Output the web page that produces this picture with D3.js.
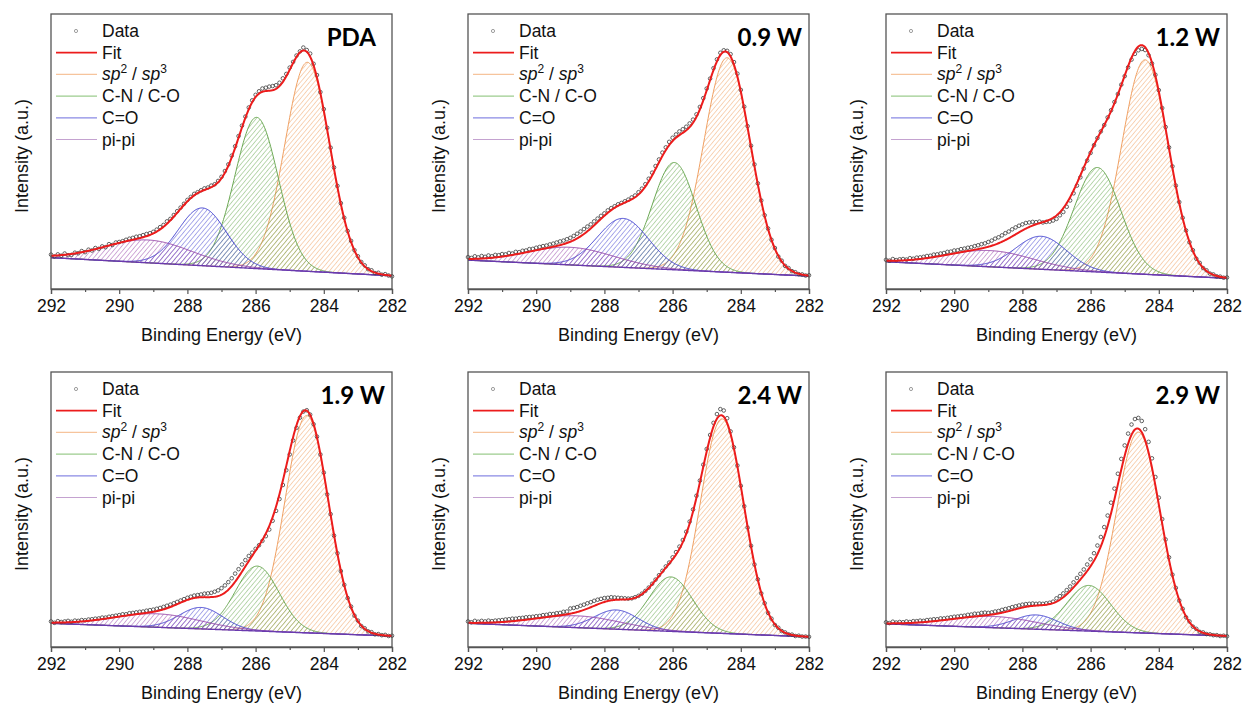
<!DOCTYPE html>
<html>
<head>
<meta charset="utf-8">
<script src="https://cdn.jsdelivr.net/npm/d3@7"></script>
<style>
  html, body { margin: 0; padding: 0; background: #fff; }
  svg { display: block; }
</style>
</head>
<body>
<div id="chart"></div>
<script>
'use strict';
// C 1s spectra, six samples. Data sampled every 0.1 eV from 292 down to 282 eV.
var energyStart = 292, energyStep = 0.1;
var panelLabels = ["PDA", "0.9 W", "1.2 W", "1.9 W", "2.4 W", "2.9 W"];
var majorTicks = [292, 290, 288, 286, 284, 282];
var minorTicks = [291, 289, 287, 285, 283];

// linear background, value at 292 eV and at 282 eV
var bgHigh = [11.4, 10.5, 9.9, 8.6, 8.6, 8.4];
var bgLow = [4.8, 4.7, 3.9, 4.0, 3.7, 4.0];

// fitted peaks: position (eV), height, FWHM (eV)
var sp2Pos = [284.48, 284.4, 284.4, 284.5, 284.55, 284.6];
var sp2Height = [76, 78, 78, 79, 78, 73];
var sp2Fwhm = [1.55, 1.6, 1.6, 1.5, 1.5, 1.5];
var cnPos = [285.97, 285.95, 285.8, 285.95, 286.05, 286.05];
var cnHeight = [55, 39, 38, 23.6, 19.8, 16.6];
var cnFwhm = [1.5, 1.5, 1.6, 1.5, 1.5, 1.5];
var coPos = [287.56, 287.45, 287.45, 287.6, 287.65, 287.6];
var coHeight = [21, 17.8, 12, 7.8, 7.0, 5.2];
var coFwhm = [1.65, 1.75, 1.75, 1.5, 1.5, 1.5];
var pipiPos = [289.15, 289.0, 288.95, 288.9, 288.8, 288.85];
var pipiHeight = [8.3, 6.4, 5.9, 4.9, 4.3, 4.1];
var pipiFwhm = [3.0, 3.0, 3.0, 3.0, 3.0, 3.0];

// measured points (a.u.), 292.0 -> 282.0 eV
var dataPDA = [
  12.5,11.8,12.6,12.1,12.9,12.3,12.4,13.2,13.0,13.8,
  13.4,14.3,14.0,14.9,14.6,15.5,15.2,16.3,16.0,16.9,
  17.1,17.4,17.9,18.3,18.6,19.0,19.2,19.6,20.0,20.3,
  20.8,21.6,22.5,23.3,24.6,25.5,26.9,28.3,29.6,31.0,
  32.4,33.5,34.6,35.2,35.9,36.6,36.9,37.6,38.1,39.3,
  40.8,42.9,45.3,48.5,51.9,55.6,59.4,62.7,66.0,68.6,
  70.6,71.9,72.9,73.2,73.6,73.8,74.1,75.0,76.6,78.2,
  80.5,82.6,84.9,86.4,87.8,86.9,85.6,81.9,77.8,71.6,
  65.4,58.6,51.4,44.2,37.5,31.2,25.9,21.1,17.5,14.1,
  11.9,9.8,8.6,7.2,6.8,5.8,5.9,5.2,5.4,4.9,
  4.6];
var data09W = [
  11.6,11.3,11.9,11.5,12.0,11.7,12.2,11.9,12.4,12.3,
  12.7,12.6,13.1,12.9,13.5,13.4,13.9,14.0,14.5,14.6,
  15.0,15.3,15.6,15.8,16.2,16.5,16.9,17.3,17.6,18.1,
  18.6,19.3,20.1,20.9,21.8,22.7,23.5,24.6,25.6,26.6,
  27.5,28.6,29.4,30.1,30.8,31.3,31.9,32.5,33.3,34.0,
  35.2,36.5,38.1,40.1,42.3,44.7,47.1,49.6,51.5,53.5,
  55.0,56.2,57.3,58.1,59.0,60.2,61.6,63.5,66.2,69.4,
  72.9,76.5,80.3,83.5,85.9,86.8,86.6,85.4,82.5,78.3,
  72.4,66.3,59.2,52.1,45.3,38.4,32.2,26.8,22.0,17.9,
  14.9,11.8,10.3,8.4,7.6,6.5,6.1,5.4,5.3,4.9,
  5.0];
var data12W = [
  10.6,10.3,10.9,10.5,10.8,10.9,10.7,11.2,11.0,11.4,
  11.5,11.7,12.0,12.1,12.5,12.6,12.9,13.1,13.5,13.6,
  14.0,14.1,14.5,14.7,15.0,15.2,15.6,15.9,16.3,16.6,
  17.1,17.6,18.3,18.8,19.5,20.3,20.9,21.7,22.4,23.0,
  23.5,24.0,24.2,24.4,24.3,24.5,24.2,24.4,24.5,24.9,
  25.5,26.8,28.0,29.9,32.2,34.8,37.6,40.6,43.8,46.7,
  49.5,52.3,54.9,57.3,59.6,62.4,65.0,68.0,70.9,74.3,
  77.4,80.6,83.4,85.5,86.8,87.3,86.9,85.0,82.0,77.9,
  72.3,65.8,58.9,51.5,44.6,37.6,31.6,25.9,21.3,17.0,
  14.1,11.0,9.5,7.6,6.8,5.6,5.3,4.6,4.5,4.1,
  4.2];
var data19W = [
  9.3,8.8,9.4,9.1,9.3,9.5,9.2,9.6,9.5,9.8,
  9.7,10.0,10.1,10.3,10.4,10.7,10.7,11.0,11.2,11.4,
  11.6,11.9,11.9,12.3,12.4,12.6,12.8,12.9,13.2,13.4,
  13.6,13.9,14.2,14.6,15.0,15.4,15.9,16.4,16.9,17.4,
  17.9,18.3,18.7,18.9,19.1,19.4,19.5,19.7,20.1,20.6,
  21.4,22.4,23.6,25.0,26.7,28.3,30.0,31.6,33.1,34.3,
  35.7,37.0,38.6,40.3,42.7,45.9,49.5,53.8,58.9,64.3,
  70.0,75.1,79.7,83.4,85.6,86.1,84.5,81.0,76.5,70.0,
  63.4,55.5,48.3,40.5,34.1,27.6,22.6,17.8,14.7,11.4,
  9.6,7.6,6.8,5.7,5.4,4.6,4.7,4.3,4.4,4.0,
  4.1];
var data24W = [
  9.3,9.0,9.5,9.2,9.5,9.3,9.6,9.4,9.6,9.7,
  9.8,10.0,10.1,10.3,10.3,10.5,10.6,10.8,10.9,11.0,
  11.2,11.3,11.6,11.7,12.0,12.0,12.3,12.4,12.8,12.9,
  14.0,14.2,14.5,15.0,15.4,15.9,16.3,16.8,17.2,17.5,
  17.8,17.9,18.1,18.0,17.9,17.8,17.7,17.6,17.7,18.1,
  18.6,19.4,20.4,21.6,23.0,24.5,26.1,27.7,29.3,30.7,
  32.6,34.5,36.5,38.9,41.9,45.6,50.0,55.0,60.5,66.3,
  72.0,77.1,81.5,84.7,86.5,86.0,83.2,78.4,72.6,66.0,
  58.6,51.2,43.4,36.8,30.0,24.6,19.5,15.9,12.4,10.3,
  8.0,7.0,5.8,5.3,4.6,4.5,4.0,4.1,3.8,3.8,
  3.7];
var data29W = [
  9.0,8.7,9.2,8.9,9.1,9.0,9.3,9.1,9.4,9.4,
  9.6,9.5,9.8,9.9,10.1,10.1,10.4,10.4,10.6,10.8,
  11.0,11.1,11.3,11.4,11.7,11.8,12.1,12.1,12.4,12.5,
  12.4,12.6,12.9,13.1,13.5,13.8,14.1,14.5,14.8,15.1,
  15.4,15.6,15.7,15.8,15.7,15.8,15.7,15.9,16.1,16.5,
  17.7,18.5,19.5,20.7,22.0,23.5,25.1,26.6,28.2,30.0,
  31.9,34.1,36.9,40.0,43.6,47.8,52.5,57.6,63.0,68.4,
  73.3,77.6,80.9,82.9,83.3,82.2,79.2,74.6,68.6,61.8,
  54.3,46.5,39.1,32.6,26.3,21.5,16.9,13.9,10.8,9.3,
  7.4,6.6,5.5,5.3,4.7,4.6,4.3,4.3,4.0,4.1,
  3.9];
var dataSeries = [dataPDA, data09W, data12W, data19W, data24W, data29W];

// ---- layout ----
var svgW = 1244, svgH = 706;
var plotW = 341, plotH = 275;
var colX = [51, 468, 886];
var rowY = [14, 372];
var fontMain = "'Liberation Sans', Arial, Helvetica, sans-serif";

var components = [
  {key: "sp2", label: null, pos: sp2Pos, height: sp2Height, fwhm: sp2Fwhm, color: "#f0a062", legend: "#f6c49c"},
  {key: "cn", label: "C-N / C-O", pos: cnPos, height: cnHeight, fwhm: cnFwhm, color: "#6aa852", legend: "#9ccc8e"},
  {key: "co", label: "C=O", pos: coPos, height: coHeight, fwhm: coFwhm, color: "#4646d2", legend: "#8a8ae4"},
  {key: "pipi", label: "pi-pi", pos: pipiPos, height: pipiHeight, fwhm: pipiFwhm, color: "#9848aa", legend: "#c4a2d0"}
];
var fitColor = "#ec1c1c";
var frameColor = "#555555";

function peak(e, pos, h, fwhm) {
    return h * Math.exp(-4 * Math.LN2 * (e - pos) * (e - pos) / (fwhm * fwhm));
}
function background(p, e) {
    return bgLow[p] + (bgHigh[p] - bgLow[p]) * (e - 282) / 10;
}

var svg = d3.select("#chart").append("svg")
    .attr("width", svgW).attr("height", svgH)
    .style("background", "#fff");

// hatch patterns, one per component
var defs = svg.append("defs");
components.forEach(function(c) {
    var pat = defs.append("pattern")
        .attr("id", "hatch-" + c.key)
        .attr("patternUnits", "userSpaceOnUse")
        .attr("width", 3.5).attr("height", 3.5)
        .attr("patternTransform", "rotate(40)");
    pat.append("line")
        .attr("x1", 0).attr("y1", 0).attr("x2", 0).attr("y2", 3.5)
        .attr("stroke", c.color).attr("stroke-width", 0.9);
});

var x = d3.scaleLinear().domain([292, 282]).range([0, plotW]);
var y = d3.scaleLinear().domain([0, 100]).range([plotH, 0]);

// fine energy grid for the smooth model curves
var curveE = d3.range(0, 501).map(function(i) { return 292 - i * 0.02; });

panelLabels.forEach(function(label, p) {
    var g = svg.append("g")
        .attr("transform", "translate(" + colX[p % 3] + "," + rowY[Math.floor(p / 3)] + ")");

    // components, each sitting on the background
    components.forEach(function(c) {
        var top = function(e) { return y(background(p, e) + peak(e, c.pos[p], c.height[p], c.fwhm[p])); };
        var area = d3.area()
            .x(function(e) { return x(e); })
            .y0(function(e) { return y(background(p, e)); })
            .y1(top);
        g.append("path").datum(curveE)
            .attr("d", area)
            .attr("fill", "url(#hatch-" + c.key + ")")
            .attr("stroke", "none");
        g.append("path").datum(curveE)
            .attr("d", d3.line().x(function(e) { return x(e); }).y(top))
            .attr("fill", "none")
            .attr("stroke", c.color)
            .attr("stroke-width", 1);
    });
    // background line
    g.append("path").datum(curveE)
        .attr("d", d3.line().x(function(e) { return x(e); }).y(function(e) { return y(background(p, e)); }))
        .attr("fill", "none").attr("stroke", "#6a3aae").attr("stroke-width", 1.4);

    // data points
    g.append("g").selectAll("circle")
        .data(dataSeries[p])
        .enter().append("circle")
        .attr("cx", function(d, i) { return x(energyStart - i * energyStep); })
        .attr("cy", function(d) { return y(d); })
        .attr("r", 1.8)
        .attr("fill", "none")
        .attr("stroke", "#3c3c3c")
        .attr("stroke-width", 0.8);

    // envelope
    var fit = d3.line()
        .x(function(e) { return x(e); })
        .y(function(e) {
            var s = background(p, e);
            components.forEach(function(c) { s += peak(e, c.pos[p], c.height[p], c.fwhm[p]); });
            return y(s);
        });
    g.append("path").datum(curveE)
        .attr("d", fit)
        .attr("fill", "none")
        .attr("stroke", fitColor)
        .attr("stroke-width", 2);

    // frame
    g.append("rect")
        .attr("width", plotW).attr("height", plotH)
        .attr("fill", "none").attr("stroke", frameColor).attr("stroke-width", 1.3);

    // bottom axis
    var axisMajor = g.append("g")
        .attr("transform", "translate(0," + plotH + ")")
        .call(d3.axisBottom(x).tickValues(majorTicks).tickSize(5).tickPadding(6));
    axisMajor.select(".domain").attr("stroke", frameColor).attr("stroke-width", 1.3);
    axisMajor.selectAll(".tick line").attr("stroke", frameColor).attr("stroke-width", 1.2);
    axisMajor.selectAll(".tick text")
        .attr("font-family", fontMain).attr("font-size", "17.5px").attr("fill", "#111");
    var axisMinor = g.append("g")
        .attr("transform", "translate(0," + plotH + ")")
        .call(d3.axisBottom(x).tickValues(minorTicks).tickSize(3).tickFormat(""));
    axisMinor.select(".domain").remove();
    axisMinor.selectAll(".tick line").attr("stroke", frameColor).attr("stroke-width", 1.2);

    // axis titles
    g.append("text")
        .attr("x", plotW / 2).attr("y", plotH + 52)
        .attr("text-anchor", "middle")
        .attr("font-family", fontMain).attr("font-size", "18px").attr("fill", "#111")
        .text("Binding Energy (eV)");
    g.append("text")
        .attr("transform", "translate(-23," + 142 + ") rotate(-90)")
        .attr("text-anchor", "middle")
        .attr("font-family", fontMain).attr("font-size", "18px").attr("fill", "#111")
        .text("Intensity (a.u.)");

    // sample label
    g.append("text")
        .attr("x", label === "PDA" ? plotW - 16 : plotW - 7)
        .attr("y", 32)
        .attr("text-anchor", "end")
        .attr("font-family", "Lato, 'Open Sans', sans-serif")
        .attr("font-weight", 700)
        .attr("font-size", "24px")
        .attr("fill", "#000")
        .text(label);

    // legend
    var leg = g.append("g").attr("font-family", fontMain).attr("font-size", "17.5px").attr("fill", "#111");
    var rowH = 21.7, row0 = 17;
    var rows = [
        {type: "data", text: "Data"},
        {type: "line", color: fitColor, width: 1.8, text: "Fit"},
        {type: "line", color: components[0].legend, width: 1.2, text: null},
        {type: "line", color: components[1].legend, width: 1.2, text: components[1].label},
        {type: "line", color: components[2].legend, width: 1.2, text: components[2].label},
        {type: "line", color: components[3].legend, width: 1.2, text: components[3].label}
    ];
    rows.forEach(function(r, i) {
        var cy = row0 + i * rowH;
        if (r.type === "data") {
            leg.append("circle").attr("cx", 25).attr("cy", cy).attr("r", 1.6)
                .attr("fill", "none").attr("stroke", "#777").attr("stroke-width", 0.7);
        } else {
            leg.append("line").attr("x1", 5).attr("x2", 46).attr("y1", cy).attr("y2", cy)
                .attr("stroke", r.color).attr("stroke-width", r.width);
        }
        var t = leg.append("text").attr("x", 51).attr("y", cy + 6);
        if (r.text !== null) {
            t.text(r.text);
        } else {
            t.append("tspan").attr("font-style", "italic").text("sp");
            t.append("tspan").attr("font-size", "12px").attr("dy", -7).text("2");
            t.append("tspan").attr("dy", 7).text(" / ");
            t.append("tspan").attr("font-style", "italic").text("sp");
            t.append("tspan").attr("font-size", "12px").attr("dy", -7).text("3");
        }
    });
});
</script>
</body>
</html>
